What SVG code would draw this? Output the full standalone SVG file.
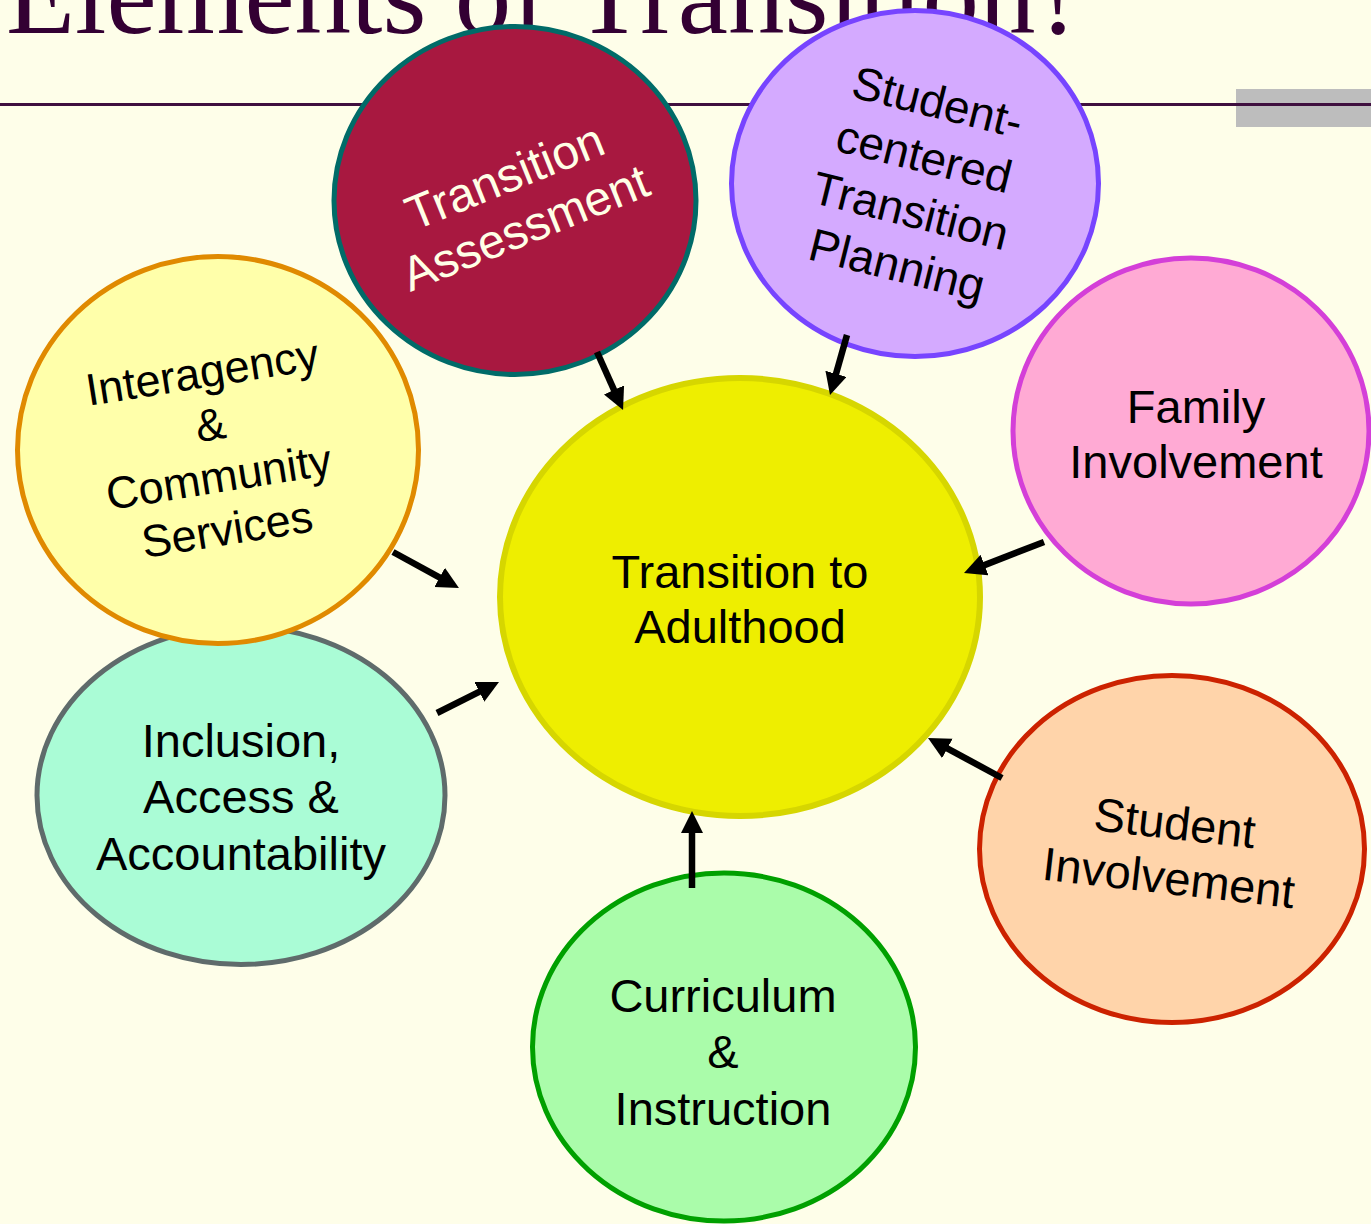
<svg xmlns="http://www.w3.org/2000/svg" width="1371" height="1224" viewBox="0 0 1371 1224">
<style>
.lbl{font-family:"Liberation Sans",Arial,sans-serif;font-size:47px;fill:#000;text-anchor:middle}
.sm{font-size:45px}
.node{stroke-width:5}
.conn{stroke:#000;stroke-width:6.5;fill:none;marker-end:url(#ah)}
</style>
<defs>
<marker id="ah" markerUnits="userSpaceOnUse" markerWidth="24" markerHeight="24" refX="7" refY="11" orient="auto">
<path d="M0,0 L22,11 L0,22 z" fill="#000"/>
</marker>
</defs>
<rect width="1371" height="1224" fill="#FEFEE9"/>
<text x="6" y="33" font-family="Liberation Serif,Times New Roman,serif" font-size="113" fill="#330033">Elements of Transition?</text>
<rect x="1236" y="89" width="135" height="38" fill="#BDBDBD"/>
<line x1="0" y1="104.5" x2="1371" y2="104.5" stroke="#3F0F3F" stroke-width="3"/>

<g id="node-inclusion">
<ellipse class="node" cx="241" cy="795.5" rx="204" ry="169" fill="#AAFCD6" stroke="#5F6B6B"/>
<text class="lbl"><tspan x="241" y="757">Inclusion,</tspan><tspan x="241" y="813">Access &amp;</tspan><tspan x="241" y="870">Accountability</tspan></text>
</g>
<g id="node-interagency">
<ellipse class="node" cx="218" cy="450" rx="200.5" ry="193.5" fill="#FFFFAA" stroke="#E08A00"/>
<text class="lbl sm" transform="translate(217,466) rotate(-9)"><tspan x="0" y="-79.5">Interagency</tspan><tspan x="0" y="-26.5">&amp;</tspan><tspan x="0" y="26.5">Community</tspan><tspan x="0" y="79.5">Services</tspan></text>
</g>
<g id="node-assessment">
<ellipse class="node" cx="515" cy="200.5" rx="181" ry="174" fill="#A81840" stroke="#006B68"/>
<text class="lbl" style="fill:#FFFFE6;font-size:48px" transform="translate(521,217) rotate(-22)"><tspan x="0" y="-27">Transition</tspan><tspan x="0" y="28">Assessment</tspan></text>
</g>
<g id="node-planning">
<ellipse class="node" cx="915" cy="183.5" rx="183.5" ry="173" fill="#D4AAFF" stroke="#7744FF"/>
<text class="lbl" style="font-size:46px" transform="translate(913.5,199) rotate(14)"><tspan x="0" y="-84">Student-</tspan><tspan x="0" y="-28">centered</tspan><tspan x="0" y="28">Transition</tspan><tspan x="0" y="84">Planning</tspan></text>
</g>
<g id="node-family">
<ellipse class="node" cx="1191" cy="431" rx="178" ry="173" fill="#FFAAD4" stroke="#D43FD8"/>
<text class="lbl"><tspan x="1196" y="423">Family</tspan><tspan x="1196" y="478">Involvement</tspan></text>
</g>
<g id="node-student">
<ellipse class="node" cx="1172" cy="849" rx="192.5" ry="173.5" fill="#FFD4AA" stroke="#CC2200"/>
<text class="lbl" transform="translate(1170,866.5) rotate(6.5)"><tspan x="0" y="-27.5">Student</tspan><tspan x="0" y="27.5">Involvement</tspan></text>
</g>
<g id="node-curriculum">
<ellipse class="node" cx="724" cy="1047" rx="191.5" ry="174" fill="#AAFCAA" stroke="#00A000"/>
<text class="lbl"><tspan x="723" y="1012">Curriculum</tspan><tspan x="723" y="1068">&amp;</tspan><tspan x="723" y="1125">Instruction</tspan></text>
</g>
<g id="node-center">
<ellipse cx="740" cy="597" rx="240" ry="219" fill="#EEEE00" stroke="#D6D600" stroke-width="6"/>
<text class="lbl"><tspan x="740" y="588">Transition to</tspan><tspan x="740" y="643">Adulthood</tspan></text>
</g>

<g id="connectors">
<line class="conn" x1="597" y1="352" x2="616.9" y2="396.3"/>
<line class="conn" x1="847" y1="335" x2="834.1" y2="380.6"/>
<line class="conn" x1="1044" y1="542" x2="978" y2="567.6"/>
<line class="conn" x1="393" y1="552" x2="445.8" y2="580.8"/>
<line class="conn" x1="437" y1="713" x2="485.6" y2="688.7"/>
<line class="conn" x1="692" y1="888" x2="692" y2="826"/>
<line class="conn" x1="1002" y1="778" x2="941.2" y2="745.1"/>
</g>
</svg>
